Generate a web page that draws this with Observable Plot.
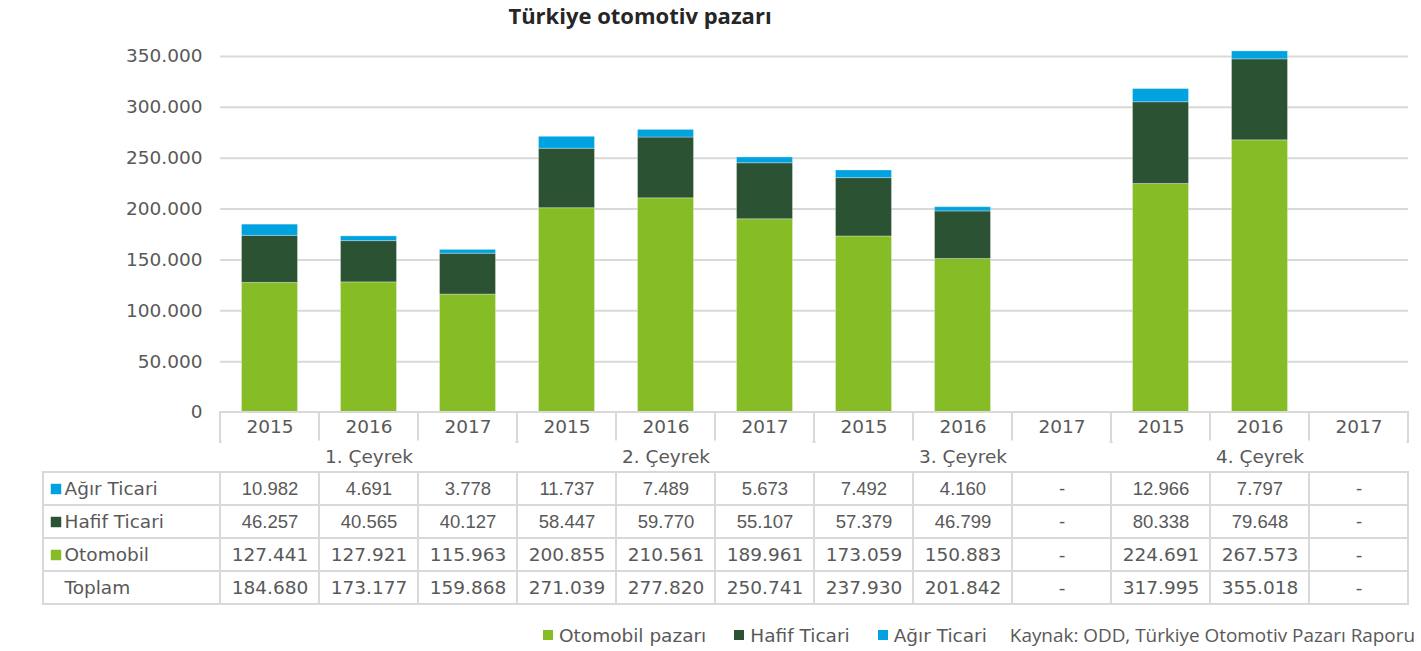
<!DOCTYPE html>
<html>
<head>
<meta charset="utf-8">
<script src="https://cdn.jsdelivr.net/npm/d3@7"></script>
<script src="https://cdn.jsdelivr.net/npm/@observablehq/plot@0.6"></script>
<style>
  body { margin: 0; background: #fff; }
  #root { position: relative; width: 1421px; height: 651px; font-family: "DejaVu Sans", sans-serif; color: #595959; overflow: hidden; }
  .layer { position: absolute; }
  .layer svg { display: block; }
  #title { position: absolute; left: 0; top: 1px; width: 1280px; text-align: center; font-family: "Open Sans", sans-serif; font-weight: 700; font-size: 22px; line-height: 28px; color: #262626; }
  #legend { position: absolute; left: 543px; top: 624px; height: 22px; display: flex; align-items: center; font-family: "DejaVu Sans", sans-serif; font-size: 18.5px; color: #595959; white-space: nowrap; }
  #legend [class*="-swatches"] { font-family: "DejaVu Sans", sans-serif !important; font-size: 18.5px !important; color: #595959 !important; margin: 0 !important; min-height: 0 !important; display: flex !important; align-items: center !important; flex-wrap: nowrap !important; }
  #legend [class$="-swatch"] { margin-right: 28px !important; display: inline-flex !important; align-items: center !important; }
  #legend [class$="-swatch"]:last-child { margin-right: 23px !important; }
  #legend [class$="-swatch"] > svg { margin-right: 6px !important; }
  #source { font-family: "Open Sans", sans-serif; font-size: 18.9px; color: #595959; }
</style>
</head>
<body>
<div id="root">
  <div id="title"></div>
  <div class="layer" id="chart" style="left:0;top:0"></div>
  <div class="layer" id="header" style="left:0;top:411px"></div>
  <div class="layer" id="labels" style="left:0;top:471px"></div>
  <div class="layer" id="body" style="left:0;top:471px"></div>
  <div id="legend"></div>
</div>
<script>
// ---- data ----
const titleText = "Türkiye otomotiv pazarı";
const sourceText = "Kaynak: ODD, Türkiye Otomotiv Pazarı Raporu";
const quarters = ["1. Çeyrek", "2. Çeyrek", "3. Çeyrek", "4. Çeyrek"];
const years = ["2015", "2016", "2017"];
const seriesNames = ["Otomobil", "Hafif Ticari", "Ağır Ticari"];
const legendLabels = ["Otomobil pazarı", "Hafif Ticari", "Ağır Ticari"];
const seriesColors = ["#86BC25", "#2C5234", "#00A3E0"];
// values per column: Q1 2015..2017, Q2 2015..2017, Q3 2015..2017, Q4 2015..2017
const otomobil    = [127441, 127921, 115963, 200855, 210561, 189961, 173059, 150883, null, 224691, 267573, null];
const hafifTicari = [46257, 40565, 40127, 58447, 59770, 55107, 57379, 46799, null, 80338, 79648, null];
const agirTicari  = [10982, 4691, 3778, 11737, 7489, 5673, 7492, 4160, null, 12966, 7797, null];
const toplam      = [184680, 173177, 159868, 271039, 277820, 250741, 237930, 201842, null, 317995, 355018, null];
const yTicks = [0, 50000, 100000, 150000, 200000, 250000, 300000, 350000];
const tableRows = ["Ağır Ticari", "Hafif Ticari", "Otomobil", "Toplam"];
const totalLabel = "Toplam";

// ---- derived ----
const textColor = "#595959";
const border = "#d9d9d9";
const fmt = v => v == null ? "-" : d3.format(",")(v).replace(/,/g, ".");
const cols = quarters.flatMap(q => years.map(y => ({quarter: q, year: y})));
const seriesValues = [otomobil, hafifTicari, agirTicari];
const bars = seriesNames.flatMap((s, k) =>
  cols.map((c, i) => ({...c, series: s, value: seriesValues[k][i]})).filter(d => d.value != null));
const rowValues = {"Ağır Ticari": agirTicari, "Hafif Ticari": hafifTicari, "Otomobil": otomobil, "Toplam": toplam};
const cells = tableRows.flatMap(r => cols.map((c, i) => ({...c, row: r, text: fmt(rowValues[r][i])})));
const arialRows = new Set(["Ağır Ticari", "Hafif Ticari"]);

const baseStyle = {fontFamily: "DejaVu Sans", fontSize: "18.5px", color: textColor, background: "transparent", overflow: "visible"};
const fxOpt = {domain: quarters, padding: 0, axis: null};
const xOpt = {domain: years, padding: 0, axis: null};

document.getElementById("title").textContent = titleText;

// ---- chart ----
const chart = Plot.plot({
  width: 1421, height: 420,
  marginLeft: 220, marginRight: 13, marginTop: 56, marginBottom: 8,
  style: baseStyle,
  fx: fxOpt,
  x: xOpt,
  y: {domain: [0, 350000], ticks: yTicks, tickFormat: fmt, tickSize: 0, tickPadding: 18, label: null},
  color: {domain: seriesNames, range: seriesColors},
  marks: [
    Plot.ruleY(yTicks, {stroke: border, strokeWidth: 2}),
    Plot.barY(bars, Plot.stackY({fx: "quarter", x: "year", y: "value", fill: "series", insetLeft: 21.5, insetRight: 21.5, stroke: "white", strokeOpacity: 0.3, strokeWidth: 1}))
  ]
});
document.getElementById("chart").appendChild(chart);

// ---- table header (years + quarters) ----
const header = Plot.plot({
  width: 1421, height: 62,
  marginLeft: 220, marginRight: 13, marginTop: 1, marginBottom: 1,
  style: baseStyle,
  fx: fxOpt,
  x: xOpt,
  y: {domain: ["year", "quarter"], padding: 0, axis: null},
  marks: [
    Plot.cell(cols, {fx: "quarter", x: "year", y: () => "year", fill: "white", stroke: border, strokeWidth: 2}),
    Plot.cell(quarters, {fx: d => d, y: () => "quarter", fill: "white", insetTop: -1.5, insetLeft: 1.5, insetRight: 1.5}),
    Plot.cell(quarters, {fx: d => d, fill: "none", stroke: border, strokeWidth: 2}),
    Plot.text(cols, {fx: "quarter", x: "year", y: () => "year", text: "year", fill: textColor}),
    Plot.text(quarters, {fx: d => d, y: () => "quarter", text: d => d, fill: textColor})
  ]
});
document.getElementById("header").appendChild(header);

// ---- table row labels ----
const labels = Plot.plot({
  width: 222, height: 135,
  marginLeft: 43, marginRight: 2, marginTop: 1, marginBottom: 2,
  style: baseStyle,
  y: {domain: tableRows, padding: 0, axis: null},
  color: {domain: seriesNames, range: seriesColors},
  marks: [
    Plot.cell(tableRows, {y: d => d, fill: "white", stroke: border, strokeWidth: 2}),
    Plot.dot(tableRows.filter(r => r !== totalLabel), {y: d => d, frameAnchor: "left", dx: 12.5, symbol: "square", r: 5.9, fill: d => d}),
    Plot.text(tableRows, {y: d => d, frameAnchor: "left", dx: 21, textAnchor: "start", text: d => d, fill: textColor})
  ]
});
document.getElementById("labels").appendChild(labels);

// ---- table body ----
const body = Plot.plot({
  width: 1421, height: 135,
  marginLeft: 220, marginRight: 13, marginTop: 1, marginBottom: 2,
  style: baseStyle,
  fx: fxOpt,
  x: xOpt,
  y: {domain: tableRows, padding: 0, axis: null},
  marks: [
    Plot.cell(cells, {fx: "quarter", x: "year", y: "row", fill: "white", stroke: border, strokeWidth: 2}),
    Plot.text(cells.filter(d => arialRows.has(d.row)), {fx: "quarter", x: "year", y: "row", text: "text", fill: textColor, fontFamily: "Liberation Sans"}),
    Plot.text(cells.filter(d => !arialRows.has(d.row)), {fx: "quarter", x: "year", y: "row", text: "text", fill: textColor})
  ]
});
document.getElementById("body").appendChild(body);

// ---- legend ----
const legend = Plot.legend({color: {domain: legendLabels, range: seriesColors}, legend: "swatches", swatchSize: 10});
const legendDiv = document.getElementById("legend");
legendDiv.appendChild(legend);
const src = document.createElement("span");
src.id = "source";
src.textContent = sourceText;
legendDiv.appendChild(src);
</script>
</body>
</html>
